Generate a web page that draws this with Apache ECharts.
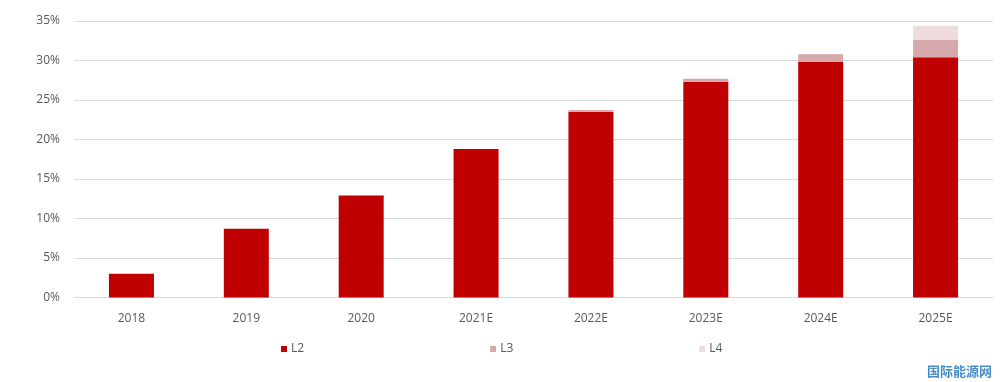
<!DOCTYPE html>
<html><head><meta charset="utf-8">
<script src="https://cdn.jsdelivr.net/npm/echarts@6/dist/echarts.min.js"></script>
<style>html,body{margin:0;padding:0;background:#fff}#c{width:1000px;height:382px}</style>
</head><body><div id="c"></div>
<script>
const categories = ['2018','2019','2020','2021E','2022E','2023E','2024E','2025E'];
const L2 = [3.0, 8.7, 12.9, 18.8, 23.5, 27.3, 29.8, 30.4];
const L3 = [0, 0, 0, 0, 0.25, 0.4, 1.0, 2.2];
const L4 = [0, 0, 0, 0, 0, 0, 0, 1.8];
const yTicks = [0,5,10,15,20,25,30,35];

const chart = echarts.init(document.getElementById('c'), null, {renderer:'canvas'});
const font = '"Open Sans", "Noto Sans", sans-serif';
chart.setOption({
  animation:false,
  grid:{left:74,right:7,top:21,bottom:84.5},
  legend:{
    data:['L2','L3','L4'], bottom:22, left:276,
    icon:'rect', itemWidth:6, itemHeight:6, itemGap:186,
    textStyle:{color:'#595959', fontSize:12, fontFamily:font, padding:[0,0,0,-1]}
  },
  xAxis:{type:'category', data:categories,
    axisLine:{lineStyle:{color:'#d9d9d9'}}, axisTick:{show:false},
    axisLabel:{color:'#595959', fontSize:12, fontFamily:font, margin:15}},
  yAxis:{type:'value', min:yTicks[0], max:yTicks[yTicks.length-1], interval:5,
    axisLine:{show:false}, axisTick:{show:false},
    splitLine:{lineStyle:{color:'#d9d9d9'}},
    axisLabel:{color:'#595959', fontSize:12, fontFamily:font, margin:14, formatter:'{value}%'}},
  series:[
    {name:'L2', type:'bar', stack:'a', data:L2, barWidth:45, itemStyle:{color:'#C00000'}},
    {name:'L3', type:'bar', stack:'a', data:L3, itemStyle:{color:'#D8A9AC'}},
    {name:'L4', type:'bar', stack:'a', data:L4, itemStyle:{color:'#EEDCDD'}}
  ],
  graphic:[{type:'text', right:8, bottom:4, style:{text:'国际能源网', fill:'#1a6fb5', font:'bold 13px "Noto Sans CJK SC"', opacity:0.8}}]
});
</script></body></html>
